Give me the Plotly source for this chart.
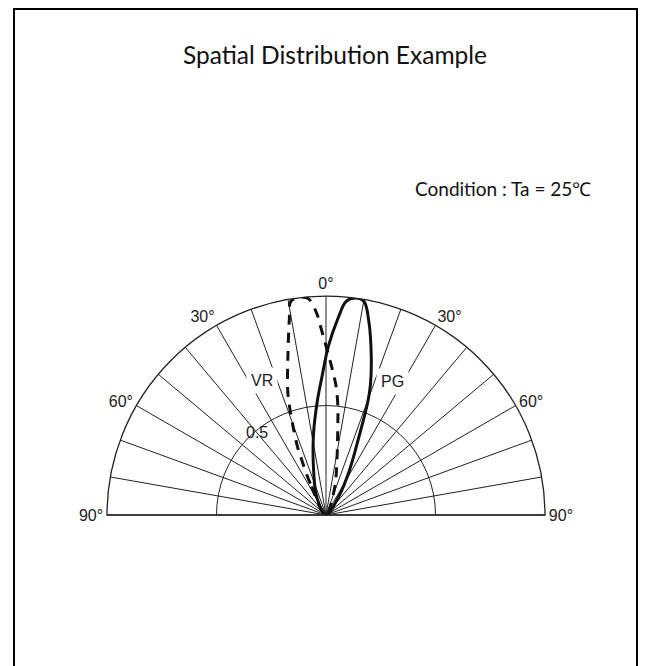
import plotly.graph_objects as go

# ---- data (angle in degrees from the 0° axis, clockwise positive; relative intensity) ----
pg_theta = [-40, -27.7, -15.6, -8.9, -4.4, -1.7, 0.8, 3.5, 5.4, 7.8, 10.1, 12.6, 16.0, 18.8, 20.3, 22.8, 27.7, 34.8, 45]
pg_r     = [0.0, 0.09, 0.21, 0.37, 0.52, 0.63, 0.77, 0.90, 0.98, 1.0, 0.99, 0.90, 0.75, 0.63, 0.55, 0.39, 0.23, 0.10, 0.0]

vr_theta = [-32, -26.7, -23.5, -22.6, -19.4, -17.2, -13.6, -10.6, -9.3, -6.6, -4.6, -2.6, -1.8, 2.9, 4.7, 6.4, 7.1, 13.2, 17.6, 25]
vr_r     = [0.0, 0.16, 0.29, 0.34, 0.48, 0.59, 0.74, 0.91, 0.99, 1.0, 0.99, 0.92, 0.87, 0.65, 0.58, 0.49, 0.44, 0.21, 0.13, 0.0]

grid_angles = list(range(-90, 91, 10))
labelled = {-90: "90°", -60: "60°", -30: "30°", 0: "0°", 30: "30°", 60: "60°", 90: "90°"}
angle_ticktext = [labelled.get(a, "") for a in grid_angles]
radial_grid = [0.5]
radial_label = "0.5"

title_text = "Spatial Distribution Example"
condition_text = "Condition : Ta = 25℃"

W, H = 651, 666
label_font = dict(family="Liberation Sans, Arial", size=16, color="#222")

fig = go.Figure()
fig.add_trace(go.Scatterpolar(r=vr_r, theta=vr_theta, mode="lines", name="VR",
                              line=dict(color="#111", width=3, dash="10px,8px"),
                              line_shape="spline"))
fig.add_trace(go.Scatterpolar(r=pg_r, theta=pg_theta, mode="lines", name="PG",
                              line=dict(color="#111", width=3),
                              line_shape="spline"))

cx, cy, R = 326, 515, 219
fig.update_layout(
    width=W, height=H,
    margin=dict(l=0, r=0, t=0, b=0),
    paper_bgcolor="white",
    showlegend=False,
    polar=dict(
        domain=dict(x=[(cx - R) / W, (cx + R) / W], y=[(H - cy) / H, (H - cy + R) / H]),
        sector=[0, 180],
        bgcolor="white",
        angularaxis=dict(
            rotation=90, direction="clockwise",
            tickmode="array", tickvals=grid_angles, ticktext=angle_ticktext,
            ticks="", showline=True, linecolor="#222", linewidth=1.3,
            showgrid=True, gridcolor="#222", gridwidth=1.1,
            tickfont=label_font,
        ),
        radialaxis=dict(
            range=[0, 1], tickmode="array", tickvals=radial_grid,
            showticklabels=False, ticks="", showline=False,
            showgrid=True, gridcolor="#222", gridwidth=1.1,
        ),
    ),
    shapes=[dict(type="rect", xref="paper", yref="paper",
                 x0=14 / W, x1=637 / W, y0=-0.1, y1=1 - 9 / H,
                 line=dict(color="black", width=2))],
    annotations=[
        dict(text=title_text, x=335 / W, y=1 - 55 / H, xref="paper", yref="paper",
             showarrow=False, xanchor="center", yanchor="middle",
             font=dict(family="Lato", size=24.5, color="#111")),
        dict(text=condition_text, x=593 / W, y=1 - 188 / H, xref="paper", yref="paper",
             showarrow=False, xanchor="right", yanchor="middle",
             font=dict(family="Lato", size=19, color="#111")),
        dict(text="VR", x=262 / W, y=1 - 380 / H, xref="paper", yref="paper",
             showarrow=False, bgcolor="white", borderpad=4, font=label_font),
        dict(text="PG", x=392 / W, y=1 - 381 / H, xref="paper", yref="paper",
             showarrow=False, bgcolor="white", borderpad=4, font=label_font),
        dict(text=radial_label, x=257 / W, y=1 - 433 / H, xref="paper", yref="paper",
             showarrow=False, font=label_font),
    ],
)

fig.write_html("out.html", config={"displayModeBar": False},
               post_script="document.body.style.margin='0';document.body.style.overflow='hidden';")
